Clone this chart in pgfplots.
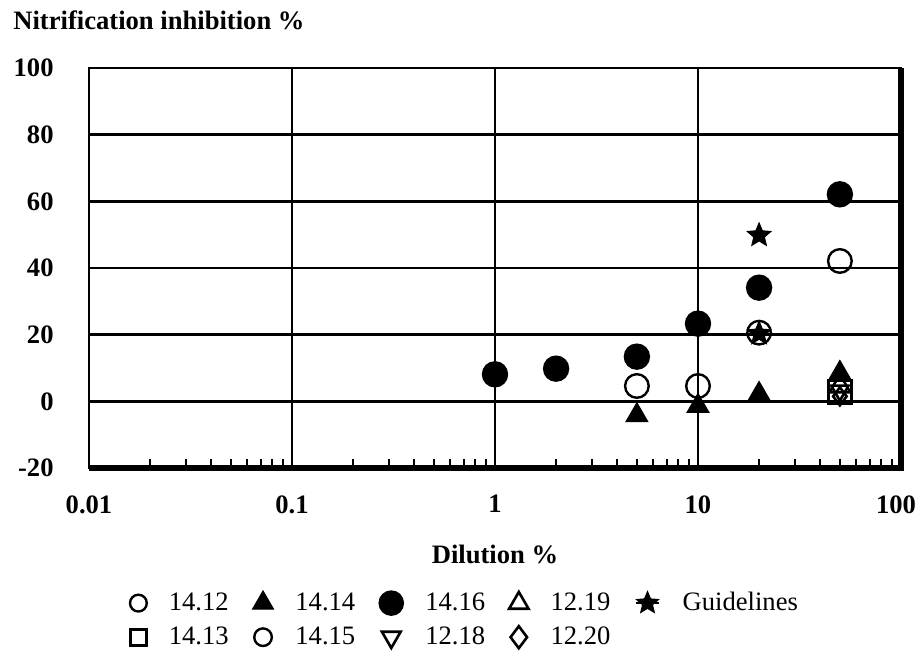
\documentclass[border=0pt]{standalone}
\usepackage{fontspec}
\setmainfont{Liberation Serif}
\usepackage{pgfplots}
\pgfplotsset{compat=1.18}
\usetikzlibrary{plotmarks}

\pgfdeclareplotmark{fstar}{%
  \pgfpathmoveto{\pgfpointpolar{90}{\pgfplotmarksize}}%
  \pgfpathlineto{\pgfpointpolar{126}{0.45\pgfplotmarksize}}%
  \pgfpathlineto{\pgfpointpolar{162}{\pgfplotmarksize}}%
  \pgfpathlineto{\pgfpointpolar{198}{0.45\pgfplotmarksize}}%
  \pgfpathlineto{\pgfpointpolar{234}{\pgfplotmarksize}}%
  \pgfpathlineto{\pgfpointpolar{270}{0.45\pgfplotmarksize}}%
  \pgfpathlineto{\pgfpointpolar{306}{\pgfplotmarksize}}%
  \pgfpathlineto{\pgfpointpolar{342}{0.45\pgfplotmarksize}}%
  \pgfpathlineto{\pgfpointpolar{18}{\pgfplotmarksize}}%
  \pgfpathlineto{\pgfpointpolar{54}{0.45\pgfplotmarksize}}%
  \pgfpathclose\pgfusepathqfillstroke}

\pgfplotsset{
  lg/.style={legend image code/.code={\draw[##1,mark size=#1] plot coordinates {(0.3cm,0cm)};}},
  lgstar/.style={legend image code/.code={\draw[black,line width=1.2pt] (0.09cm,0cm) -- (0.51cm,0cm);\draw[##1,mark size=#1] plot coordinates {(0.3cm,0cm)};}},
}

\newcommand{\fs}{\fontsize{13.3}{16}\selectfont}

\begin{document}
\begin{tikzpicture}
\path[use as bounding box] (-44.5pt,-91.5pt) rectangle (414pt,234pt);
\begin{axis}[
  at={(0,0)}, anchor=south west,
  scale only axis, width=406pt, height=200pt,
  clip=false,
  xmode=log, xmin=0.01, xmax=100, ymin=-20, ymax=100,
  xtick={0.01,0.1,1,10,100}, xticklabels={0.01,0.1,1,10,{\hspace*{-5pt}100}},
  minor xtick={0.02,0.03,0.04,0.05,0.06,0.07,0.08,0.09,0.2,0.3,0.4,0.5,0.6,0.7,0.8,0.9,2,3,4,5,6,7,8,9,20,30,40,50,60,70,80,90},
  ytick={-20,0,20,40,60,80,100}, yticklabels={-20,0,20,40,60,80,100},
  xtick pos=left, ytick pos=left, tick align=inside,
  major tick length=0pt, minor tick length=4.5pt,
  minor tick style={black, line width=1pt},
  ytick style={draw=none},
  xmajorgrids, ymajorgrids,
  major grid style={black, line width=1.2pt},
  axis line style={black, line width=1.3pt},
  xticklabel style={font=\fs\bfseries, anchor=north, inner sep=0pt, yshift=-13.5pt},
  yticklabel style={font=\fs\bfseries, anchor=east, inner sep=0pt, xshift=-17.5pt},
  title={Nitrification inhibition \%},
  title style={at={(axis description cs:-0.0936,1.088)}, anchor=west, inner sep=0pt, yshift=0pt, font=\fs\bfseries},
  xlabel={Dilution \%},
  xlabel style={at={(axis description cs:0.5,-0.215)}, anchor=center, font=\fs\bfseries},
  legend columns=5,
  legend cell align=left,
  legend style={draw=none, fill=none, inner sep=0pt,
    at={(axis description cs:0.050,-0.300)}, anchor=north west,
    font=\fs,
    /tikz/every even column/.append style={column sep=10pt},
    /tikz/every odd column/.append style={column sep=9pt},
    row sep=2.5pt},
]
% 14.12
\addplot[only marks, black, mark=o, mark size=5.9pt, mark options={line width=1.2pt}, lg=4.2pt]
  coordinates {(5,4.6) (10,4.6)};
\addlegendentry{14.12}
% 14.14
\addplot[only marks, black, mark=triangle*, mark size=6.2pt, mark options={fill=black, line width=0.6pt}, lg=6pt]
  coordinates {(5,-4.2) (10,-1.4) (20,2.2) (50,8.5)};
\addlegendentry{14.14}
% 14.16
\addplot[only marks, black, mark=*, mark size=6.2pt, mark options={fill=black, line width=0.8pt}, lg=6pt]
  coordinates {(1,8.1) (2,9.8) (5,13.4) (10,23.3) (20,34.1) (50,62.1)};
\addlegendentry{14.16}
% 12.19
\addplot[only marks, black, mark=triangle, mark size=6pt, mark options={line width=1.3pt}, lg=5.6pt]
  coordinates {(50,4.5)};
\addlegendentry{12.19}
% Guidelines
\addplot[only marks, black, mark=fstar, mark size=6.2pt, mark options={fill=black, line width=0.5pt}, lgstar=5.8pt]
  coordinates {(20,20.3) (20,49.8)};
\addlegendentry{Guidelines}
% 14.13
\addplot[only marks, black, mark=square, mark size=5.8pt, mark options={line width=1.6pt}, lg=4pt]
  coordinates {(50,2.8)};
\addlegendentry{14.13}
% 14.15
\addplot[only marks, black, mark=o, mark size=5.9pt, mark options={line width=1.2pt}, lg=4.4pt]
  coordinates {(20,20.6) (50,42.1)};
\addlegendentry{14.15}
% 12.18
\addplot[only marks, black, mark=triangle, mark size=5pt, mark options={rotate=180, line width=1.3pt}, lg=5.4pt]
  coordinates {(50,3.2)};
\addlegendentry{12.18}
% 12.20
\addplot[only marks, black, mark=diamond, mark size=4.5pt, mark options={line width=1.3pt}, lg=5.5pt]
  coordinates {(50,1.5)};
\addlegendentry{12.20}
\draw[black, line width=2.6pt] (rel axis cs:0,0) -- (rel axis cs:1,0) -- (rel axis cs:1,1);
\end{axis}
\end{tikzpicture}
\end{document}
